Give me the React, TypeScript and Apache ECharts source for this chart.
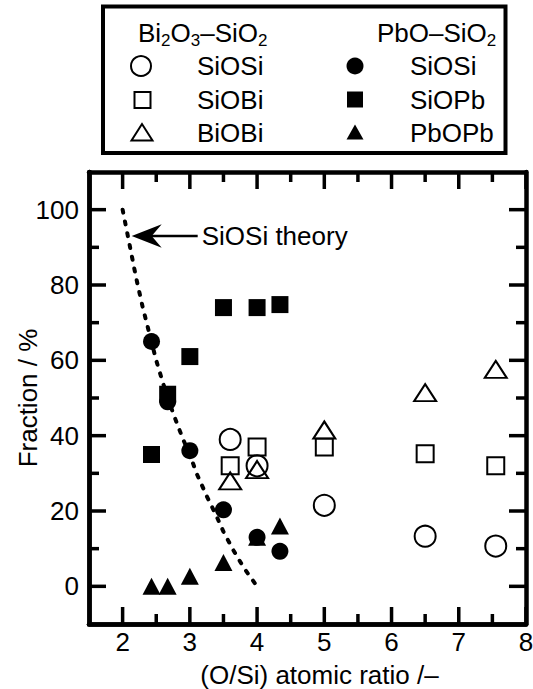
import React, { useEffect, useRef } from "react";
import * as echarts from "echarts";

const FONT = "'Liberation Sans', Arial, Helvetica, sans-serif";
const FS = 26;

// axis ticks
const xMajorTicks = [2, 3, 4, 5, 6, 7, 8];
const xMinorTicks = [2.5, 3.5, 4.5, 5.5, 6.5, 7.5];
const yMajorTicks = [0, 20, 40, 60, 80, 100];
const yMinorTicks = [10, 30, 50, 70, 90];
const xRange = [1.5, 8];
const yRange = [-10, 110];

// Bi2O3–SiO2 (open symbols)
const biRatio = [3.6, 4.0, 5.0, 6.5, 7.55];
const biSiOSi = [39, 32, 21.5, 13.3, 10.7];
const biSiOBi = [32, 37, 37, 35.2, 32];
const biBiOBi = [28, 31, 41.5, 51.4, 57.6];

// PbO–SiO2 (filled symbols)
const pbRatio = [2.43, 2.67, 3.0, 3.5, 4.0, 4.34];
const pbSiOSi = [65, 49, 36, 20.3, 13, 9.3];
const pbSiOPb = [35, 51, 61, 74, 74, 74.8];
const pbPbOPb = [0, 0, 2.7, 6.3, 13, 16];

// SiOSi theory curve
const theoryRatio = [2.0, 2.1, 2.2, 2.3, 2.4, 2.5, 2.6, 2.75, 2.9, 3.0, 3.1, 3.25, 3.4, 3.5, 3.65, 3.8, 4.0];
const theorySiOSi = [100, 91, 82, 74, 67, 60, 54, 46, 39, 35, 30, 24, 18.5, 14.5, 9.5, 5, 0];

const legendBi = ["SiOSi", "SiOBi", "BiOBi"];
const legendPb = ["SiOSi", "SiOPb", "PbOPb"];

const xTitle = "(O/Si) atomic ratio /\u2013";
const yTitle = "Fraction / %";
const annotationText = "SiOSi theory";
const annotationTip = [2.135, 93];

const zip = (xs: number[], ys: number[]) => xs.map((x, i) => [x, ys[i]]);

const BLACK = "#000";
const FRAME_W = 4.5;
const TICK_W = 3.5;
const MAJOR_LEN = 17;
const MINOR_LEN = 10;
const GRID = { left: 89, right: 7, top: 172, bottom: 65, containLabel: false, outerBoundsMode: "none", show: false };

function makeXAxis(position: string, labels: boolean): any {
  return {
    type: "value",
    position,
    min: xRange[0],
    max: xRange[1],
    axisLine: { show: true, onZero: false, lineStyle: { color: BLACK, width: FRAME_W } },
    splitLine: { show: false },
    axisTick: { show: false },
    axisLabel: labels
      ? { show: true, customValues: xMajorTicks, fontSize: FS, color: BLACK, fontFamily: FONT, margin: 5 }
      : { show: false },
  };
}

function makeYAxis(position: string, labels: boolean): any {
  return {
    type: "value",
    position,
    min: yRange[0],
    max: yRange[1],
    axisLine: { show: true, onZero: false, lineStyle: { color: BLACK, width: FRAME_W } },
    splitLine: { show: false },
    axisTick: { show: false },
    axisLabel: labels
      ? { show: true, customValues: yMajorTicks, fontSize: FS, color: BLACK, fontFamily: FONT, margin: 10 }
      : { show: false },
  };
}

const openStyle = { color: "rgba(0,0,0,0)", borderColor: BLACK, borderWidth: 2, opacity: 1 };
const filledStyle = { color: BLACK, opacity: 1 };

export default function App() {
  const ref = useRef<HTMLDivElement>(null);
  const tickRef = useRef<HTMLDivElement>(null);
  useEffect(() => {
    if (!ref.current || !tickRef.current) return;
    const chart = echarts.init(ref.current, null, { renderer: "svg" });

    const option: any = {
      animation: false,
      backgroundColor: "#fff",
      grid: GRID,
      xAxis: [makeXAxis("bottom", true), makeXAxis("top", false)],
      yAxis: [makeYAxis("left", true), makeYAxis("right", false)],
      series: [
        {
          name: "SiOSi theory",
          type: "line",
          data: zip(theoryRatio, theorySiOSi),
          symbol: "none",
          lineStyle: { color: BLACK, width: 4, type: [3, 9], cap: "round" },
          z: 1,
        },
        { name: "Bi SiOSi", type: "scatter", data: zip(biRatio, biSiOSi), symbol: "circle", symbolSize: 21, itemStyle: openStyle, z: 3 },
        { name: "Bi SiOBi", type: "scatter", data: zip(biRatio, biSiOBi), symbol: "rect", symbolSize: 17, itemStyle: openStyle, z: 3 },
        { name: "Bi BiOBi", type: "scatter", data: zip(biRatio, biBiOBi), symbol: "triangle", symbolSize: [22, 17], itemStyle: openStyle, z: 3 },
        { name: "Pb SiOSi", type: "scatter", data: zip(pbRatio, pbSiOSi), symbol: "circle", symbolSize: 17, itemStyle: filledStyle, z: 3 },
        { name: "Pb SiOPb", type: "scatter", data: zip(pbRatio, pbSiOPb), symbol: "rect", symbolSize: 17, itemStyle: filledStyle, z: 3 },
        { name: "Pb PbOPb", type: "scatter", data: zip(pbRatio, pbPbOPb), symbol: "triangle", symbolSize: [18, 17], itemStyle: filledStyle, z: 3 },
      ],
    };
    chart.setOption(option);

    const px = (x: number, y: number) => chart.convertToPixel({ gridIndex: 0 }, [x, y]) as number[];
    const corner0 = px(xRange[0], yRange[0]);
    const corner1 = px(xRange[1], yRange[1]);
    const left = corner0[0];
    const bottom = corner0[1];
    const right = corner1[0];
    const top = corner1[1];

    const tip = px(annotationTip[0], annotationTip[1]);
    const tx = tip[0];
    const ty = tip[1];

    const rowY = [66, 100, 132.5];
    const textStyle = (x: number, y: number, text: string) => ({
      type: "text",
      x,
      y,
      style: { text, fontSize: FS, fontFamily: FONT, fill: BLACK, verticalAlign: "middle", align: "left" },
    });

    const richHeader = (x: number, y: number, text: string) => ({
      type: "text",
      x,
      y,
      style: {
        text,
        fontSize: FS,
        fontFamily: FONT,
        fill: BLACK,
        verticalAlign: "middle",
        align: "left",
        rich: {
          m: { fontSize: FS, lineHeight: 32, fontFamily: FONT, fill: BLACK, verticalAlign: "middle" },
          s: { fontSize: 17, lineHeight: 17, fontFamily: FONT, fill: BLACK, verticalAlign: "bottom" },
        },
      },
    });

    const graphic: any[] = [
      {
        type: "text",
        x: (left + right) / 2 + 12,
        y: 675,
        style: { text: xTitle, fontSize: FS, fontFamily: FONT, fill: BLACK, align: "center", verticalAlign: "middle" },
      },
      {
        type: "text",
        x: 28,
        y: (top + bottom) / 2,
        rotation: Math.PI / 2,
        style: { text: yTitle, fontSize: FS, fontFamily: FONT, fill: BLACK, align: "center", verticalAlign: "middle" },
      },
      {
        type: "rect",
        shape: { x: 103, y: 6.5, width: 402.5, height: 146.5 },
        style: { fill: "#fff", stroke: BLACK, lineWidth: 4 },
      },
      richHeader(138, 32.5, "{m|Bi}{s|2}{m|O}{s|3}{m|\u2013SiO}{s|2}"),
      richHeader(377, 32.5, "{m|PbO\u2013SiO}{s|2}"),
      { type: "circle", shape: { cx: 141, cy: rowY[0], r: 10 }, style: { fill: "none", stroke: BLACK, lineWidth: 2 } },
      { type: "rect", shape: { x: 134.5, y: rowY[1] - 8, width: 16, height: 16 }, style: { fill: "none", stroke: BLACK, lineWidth: 2 } },
      {
        type: "polygon",
        shape: { points: [[142, rowY[2] - 8.5], [131.5, rowY[2] + 8], [152.5, rowY[2] + 8]] },
        style: { fill: "none", stroke: BLACK, lineWidth: 2 },
      },
      textStyle(197, rowY[0], legendBi[0]),
      textStyle(197, rowY[1], legendBi[1]),
      textStyle(197, rowY[2], legendBi[2]),
      { type: "circle", shape: { cx: 355, cy: rowY[0], r: 8.5 }, style: { fill: BLACK } },
      { type: "rect", shape: { x: 347, y: rowY[1] - 8.5, width: 16, height: 16 }, style: { fill: BLACK } },
      {
        type: "polygon",
        shape: { points: [[355, rowY[2] - 8], [346.5, rowY[2] + 7], [363.5, rowY[2] + 7]] },
        style: { fill: BLACK },
      },
      textStyle(410, rowY[0], legendPb[0]),
      textStyle(410, rowY[1], legendPb[1]),
      textStyle(410, rowY[2], legendPb[2]),
      {
        type: "line",
        shape: { x1: tx + 18, y1: ty, x2: tx + 66, y2: ty },
        style: { stroke: BLACK, lineWidth: 2.5 },
        z: 10,
      },
      {
        type: "polygon",
        shape: { points: [[tx, ty], [tx + 30, ty - 11.7], [tx + 20, ty], [tx + 30, ty + 11.7]] },
        style: { fill: BLACK },
        z: 10,
      },
      {
        type: "text",
        x: tx + 70,
        y: ty,
        style: { text: annotationText, fontSize: FS, fontFamily: FONT, fill: BLACK, verticalAlign: "middle", align: "left" },
        z: 10,
      },
    ];
    chart.setOption({ graphic });

    // overlay instance that draws the frame ticks
    const tickChart = echarts.init(tickRef.current, null, { renderer: "svg" });
    tickChart.setOption({
      animation: false,
      grid: GRID,
      xAxis: [{ type: "value", min: xRange[0], max: xRange[1], axisTick: { show: false }, axisLabel: { show: false }, splitLine: { show: false }, axisLine: { onZero: false, lineStyle: { color: BLACK, width: FRAME_W } } }],
      yAxis: [{ type: "value", min: yRange[0], max: yRange[1], axisTick: { show: false }, axisLabel: { show: false }, splitLine: { show: false }, axisLine: { onZero: false, lineStyle: { color: BLACK, width: FRAME_W } } }],
      series: [],
    } as any);
    const tpx = (x: number, y: number) => tickChart.convertToPixel({ gridIndex: 0 }, [x, y]) as number[];
    const c0 = tpx(xRange[0], yRange[0]);
    const c1 = tpx(xRange[1], yRange[1]);
    const tickLine = (x1: number, y1: number, x2: number, y2: number) => ({
      type: "line",
      shape: { x1, y1, x2, y2 },
      style: { stroke: BLACK, lineWidth: TICK_W },
      z: 50,
    });
    const ticks: any[] = [];
    const addX = (vals: number[], len: number) => {
      vals.forEach((v) => {
        const p = tpx(v, 0)[0];
        ticks.push(tickLine(p, c0[1], p, c0[1] - len));
        ticks.push(tickLine(p, c1[1], p, c1[1] + len));
      });
    };
    const addY = (vals: number[], len: number) => {
      vals.forEach((v) => {
        const p = tpx(2, v)[1];
        ticks.push(tickLine(c0[0], p, c0[0] + len, p));
        ticks.push(tickLine(c1[0], p, c1[0] - len, p));
      });
    };
    addX(xMajorTicks, MAJOR_LEN);
    addX(xMinorTicks, MINOR_LEN);
    addY(yMajorTicks, MAJOR_LEN);
    addY(yMinorTicks, MINOR_LEN);
    tickChart.setOption({ graphic: ticks });

    return () => {
      tickChart.dispose();
      chart.dispose();
    };
  }, []);

  return (
    <div style={{ position: "fixed", left: 0, top: 0, width: 533, height: 689 }}>
      <div ref={ref} style={{ position: "absolute", left: 0, top: 0, width: 533, height: 689 }} />
      <div ref={tickRef} style={{ position: "absolute", left: 0, top: 0, width: 533, height: 689, pointerEvents: "none" }} />
    </div>
  );
}
